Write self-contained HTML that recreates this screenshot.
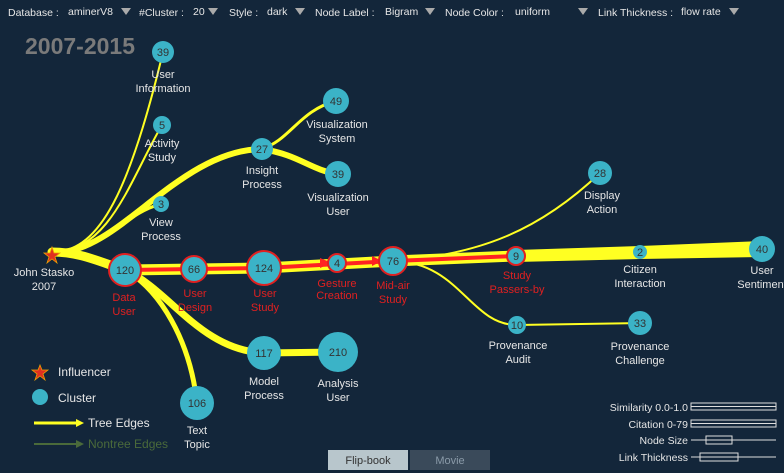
<!DOCTYPE html><html><head><style>
body{margin:0;width:784px;height:473px;background:#13263a;overflow:hidden;font-family:"Liberation Sans",sans-serif}
svg{position:absolute;left:0;top:0}
</style></head><body>
<svg width="784" height="473" viewBox="0 0 784 473" font-family="Liberation Sans, sans-serif">
<g font-size="10.5" fill="#e6e6e6">
<text x="8" y="16">Database :</text><text x="68" y="15">aminerV8</text><polygon points="121,8 131,8 126,15" fill="#aaa"/>
<text x="139" y="16">#Cluster :</text><text x="193" y="15">20</text><polygon points="208,8 218,8 213,15" fill="#aaa"/>
<text x="229" y="16">Style :</text><text x="267" y="15">dark</text><polygon points="295,8 305,8 300,15" fill="#aaa"/>
<text x="315" y="16">Node Label :</text><text x="385" y="15">Bigram</text><polygon points="425,8 435,8 430,15" fill="#aaa"/>
<text x="445" y="16">Node Color :</text><text x="515" y="15">uniform</text><polygon points="578,8 588,8 583,15" fill="#aaa"/>
<text x="598" y="16">Link Thickness :</text><text x="681" y="15">flow rate</text><polygon points="729,8 739,8 734,15" fill="#aaa"/>
</g>
<text x="25" y="54" font-size="23" font-weight="bold" fill="#7a7a7a">2007-2015</text>
<g fill="none" stroke="#ffff22" stroke-linecap="round">
<path d="M55,252 C100,250 130,190 163,52" stroke-width="2"/>
<path d="M55,252 C110,250 130,180 162,125" stroke-width="2"/>
<path d="M55,252 C110,250 120,215 161,204" stroke-width="3"/>
<path d="M60,252 C120,250 180,150 262,149" stroke-width="6"/>
<path d="M262,149 C290,140 300,110 336,101" stroke-width="3"/>
<path d="M262,149 C300,155 310,170 338,174" stroke-width="6"/>
<path d="M393,261 C480,255 540,230 600,173" stroke-width="2"/>
<path d="M393,261 C460,262 470,325 517,325 L640,323" stroke-width="2"/>
<path d="M125,270 C170,290 200,350 264,353 L338,352" stroke-width="7"/>
<path d="M125,270 C160,290 190,340 197,403" stroke-width="5"/>
<path d="M52,252 C80,252 100,262 125,270" stroke-width="9"/>
<path d="M125,270 L264,268 L393,261 L516,256" stroke-width="11"/>
</g>
<polygon points="516,250 640,246 762,241 762,257 640,259 516,262" fill="#ffff22"/>
<path d="M125,270 L264,268 L393,261 L516,256" stroke="#ff2222" stroke-width="4" fill="none"/>
<polygon points="320,258 332,263 320,268" fill="#ff2222"/><polygon points="372,256 382,261 372,266" fill="#ff2222"/>
<g fill="#3bb3c7" font-size="11" text-anchor="middle">
<circle cx="163" cy="52" r="11"/><circle cx="162" cy="125" r="9"/><circle cx="161" cy="204" r="8"/>
<circle cx="262" cy="149" r="11"/><circle cx="336" cy="101" r="13"/><circle cx="338" cy="174" r="13"/>
<circle cx="600" cy="173" r="12"/><circle cx="640" cy="252" r="7"/><circle cx="762" cy="249" r="13"/>
<circle cx="517" cy="325" r="9"/><circle cx="640" cy="323" r="12"/><circle cx="264" cy="353" r="17"/>
<circle cx="338" cy="352" r="20"/><circle cx="197" cy="403" r="17"/>
<g stroke="#e02020" stroke-width="2">
<circle cx="125" cy="270" r="16"/><circle cx="194" cy="269" r="13"/><circle cx="264" cy="268" r="17"/>
<circle cx="337" cy="263" r="9"/><circle cx="393" cy="261" r="14"/><circle cx="516" cy="256" r="9"/></g>
<g fill="#333">
<text x="163" y="56">39</text><text x="162" y="129">5</text><text x="161" y="208">3</text><text x="262" y="153">27</text>
<text x="336" y="105">49</text><text x="338" y="178">39</text><text x="600" y="177">28</text><text x="640" y="256">2</text>
<text x="762" y="253">40</text><text x="517" y="329">10</text><text x="640" y="327">33</text><text x="264" y="357">117</text>
<text x="338" y="356">210</text><text x="197" y="407">106</text><text x="125" y="274">120</text><text x="194" y="273">66</text>
<text x="264" y="272">124</text><text x="337" y="267">4</text><text x="393" y="265">76</text><text x="516" y="260">9</text></g>
</g>
<polygon points="52,247 54,253 60,253 55,257 57,263 52,259 47,263 49,257 44,253 50,253" fill="#e03020" stroke="#f0a000" stroke-width="0.8"/>
<g font-size="11" fill="#e6e6e6" text-anchor="middle">
<text x="163" y="78">User</text><text x="163" y="92">Information</text>
<text x="162" y="147">Activity</text><text x="162" y="161">Study</text>
<text x="161" y="226">View</text><text x="161" y="240">Process</text>
<text x="262" y="174">Insight</text><text x="262" y="188">Process</text>
<text x="337" y="128">Visualization</text><text x="337" y="142">System</text>
<text x="338" y="201">Visualization</text><text x="338" y="215">User</text>
<text x="602" y="199">Display</text><text x="602" y="213">Action</text>
<text x="640" y="273">Citizen</text><text x="640" y="287">Interaction</text>
<text x="762" y="274">User</text><text x="762" y="288">Sentiment</text>
<text x="518" y="349">Provenance</text><text x="518" y="363">Audit</text>
<text x="640" y="350">Provenance</text><text x="640" y="364">Challenge</text>
<text x="264" y="385">Model</text><text x="264" y="399">Process</text>
<text x="338" y="387">Analysis</text><text x="338" y="401">User</text>
<text x="197" y="434">Text</text><text x="197" y="448">Topic</text>
<text x="44" y="276">John Stasko</text><text x="44" y="290">2007</text>
</g>
<g font-size="11" fill="#e02020" text-anchor="middle">
<text x="124" y="301">Data</text><text x="124" y="315">User</text>
<text x="195" y="297">User</text><text x="195" y="311">Design</text>
<text x="265" y="297">User</text><text x="265" y="311">Study</text>
<text x="337" y="287">Gesture</text><text x="337" y="299">Creation</text>
<text x="393" y="289">Mid-air</text><text x="393" y="303">Study</text>
<text x="517" y="279">Study</text><text x="517" y="293">Passers-by</text>
</g>
<polygon points="40,365 42,370 48,370 43,374 45,380 40,376 35,380 37,374 32,370 38,370" fill="#e03020" stroke="#f0a000" stroke-width="0.8"/>
<circle cx="40" cy="397" r="8" fill="#3bb3c7"/>
<g font-size="12" fill="#e6e6e6"><text x="58" y="376">Influencer</text><text x="58" y="402">Cluster</text><text x="88" y="427">Tree Edges</text></g>
<text x="88" y="448" font-size="12" fill="#4a6a3a">Nontree Edges</text>
<line x1="34" y1="423" x2="78" y2="423" stroke="#ffff22" stroke-width="3"/><polygon points="76,419 84,423 76,427" fill="#ffff22"/>
<line x1="34" y1="444" x2="78" y2="444" stroke="#4a6a3a" stroke-width="2"/><polygon points="76,440 84,444 76,448" fill="#4a6a3a"/>
<g font-size="10.5" fill="#e6e6e6" text-anchor="end">
<text x="688" y="411">Similarity 0.0-1.0</text><text x="688" y="428">Citation 0-79</text>
<text x="688" y="444">Node Size</text><text x="688" y="461">Link Thickness</text></g>
<g fill="none" stroke="#ddd" stroke-width="1">
<rect x="691" y="403" width="85" height="7"/><line x1="691" y1="406.5" x2="776" y2="406.5"/>
<rect x="691" y="420" width="85" height="7"/><line x1="691" y1="423.5" x2="776" y2="423.5"/>
<line x1="691" y1="440" x2="776" y2="440"/><rect x="706" y="436" width="26" height="8"/>
<line x1="691" y1="457" x2="776" y2="457"/><rect x="700" y="453" width="38" height="8"/></g>
<rect x="328" y="450" width="80" height="20" fill="#b8c6cc"/><text x="368" y="464" font-size="11" fill="#333" text-anchor="middle">Flip-book</text>
<rect x="410" y="450" width="80" height="20" fill="#3a4a5a"/><text x="450" y="464" font-size="11" fill="#8a9aa8" text-anchor="middle">Movie</text>
</svg></body></html>
